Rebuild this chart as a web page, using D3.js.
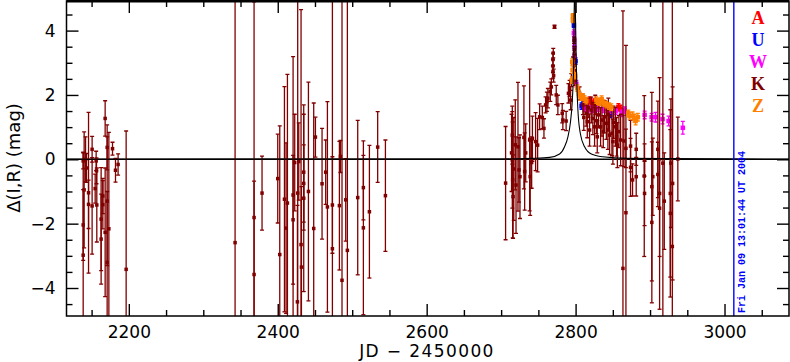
<!DOCTYPE html>
<html lang="en">
<head>
<meta charset="utf-8">
<title>Delta(I,R) light curve</title>
<script src="https://cdn.jsdelivr.net/npm/d3@7/dist/d3.min.js"></script>
<style>
  body { margin: 0; background: #fff; }
  svg { display: block; }
  .tick text { font-family: "DejaVu Sans", sans-serif; font-size: 17px; fill: #000; }
</style>
</head>
<body>
<script>
// Data: [JD-2450000, delta mag, error]
var bandK = [
  [2138.7,-2.98,3.2],[2138.7,-2.04,1.1],[2140.0,-0.95,1.8],[2138.7,-0.05,0.25],[2141.9,0.0,0.7],
  [2143.2,-0.27,0.45],[2145.9,-1.04,2.5],[2145.9,-1.4,0.75],[2150.7,-1.45,1.5],[2150.7,0.31,0.4],
  [2154.8,-0.91,0.45],[2156.1,-0.05,0.3],[2156.6,-0.36,0.4],[2157.0,-1.42,1.15],[2162.8,-1.86,1.6],
  [2162.8,-2.48,1.4],[2165.1,-1.14,0.55],[2165.1,-1.41,0.75],[2168.2,-2.27,2.0],[2168.2,1.27,0.55],
  [2170.9,-3.2,2.2],[2170.9,-1.3,2.0],[2170.9,0.37,0.7],[2173.2,-2.16,3.0],[2178.1,0.33,0.2],
  [2182.1,-0.34,0.37],[2185.6,-0.16,0.33],[2196.4,-3.42,4.3],
  [2342.7,-2.59,8],[2368.2,-1.81,6.7],[2368.2,-3.58,2.9],[2378.9,-1.05,1.15],[2400.0,-0.6,1.38],
  [2402.7,-2.96,4.0],[2409.0,-1.24,3.5],[2411.2,-2.14,2.65],[2413.0,-1.36,4.0],[2420.6,-1.11,4.3],
  [2420.6,-1.88,2.0],[2422.8,-0.1,1.5],[2426.4,-4.43,3.0],[2426.8,-1.05,6.0],[2428.2,-0.07,1.2],
  [2431.3,-2.65,7.3],[2431.8,-3.35,2.5],[2434.9,-0.4,1.8],[2434.9,-0.75,1.2],[2434.9,-1.21,2.9],
  [2441.2,-1.0,3.4],[2448.3,-2.15,3.9],[2450.6,0.69,0.62],[2459.5,-0.76,1.72],[2464.4,-0.4,1.0],
  [2466.7,-1.48,3.27],[2473.4,-2.78,7.7],[2473.4,-1.42,1.5],[2482.8,-1.44,2.0],[2484.2,0.09,0.5],
  [2486.3,-3.76,8.7],[2491.3,-1.26,1.28],[2493.5,-2.83,7.8],[2507.4,-1.19,2.4],[2515.0,-0.88,1.0],
  [2515.0,-2.13,2.7],[2523.1,-1.63,2.06],[2534.2,0.38,1.1],[2544.6,-1.13,1.73],
  [2706,-0.74,1.76],[2715,0.75,0.9],[2715,-0.02,1.5],[2715.5,-0.64,1.8],[2716,-1.16,1.3],
  [2714,0.2,1.2],[2717,-0.3,1.6],[2719,0.45,1.4],[2720,-0.8,1.5],[2722.6,0.39,2.0],
  [2724,-0.33,1.0],[2725.3,-0.54,1.3],[2730.6,0.68,1.6],[2731.6,-0.38,1.2],[2733,0.2,0.9],
  [2738.3,0.6,2.2],[2739,-0.54,1.2],[2741,-0.1,0.8],[2742,0.64,0.7],[2746.3,0.55,0.9],
  [2749,0.44,0.83],[2751.7,1.32,0.4],[2755.3,1.3,0.35],[2757.5,0.96,0.3],[2759.7,1.69,0.25],
  [2761.5,1.79,0.3],[2762.8,1.9,0.3],[2766,2.1,0.3],[2767.4,2.25,0.25],[2769.6,2.72,0.2],
  [2769.6,2.9,0.2],[2769.6,3.1,0.2],[2770,3.3,0.15],[2770.5,2.6,0.2],[2771.7,4.12,0.05],
  [2774,2.0,0.3],[2776.2,1.69,0.3],[2782,1.43,0.3],[2782.9,1.22,0.3],[2787.3,1.19,0.3],
  [2790.4,2.05,0.3],[2792,2.2,0.25],[2793.3,1.84,0.3],[2794.3,2.46,0.2],[2796.6,2.98,0.2],
  [2797.9,3.7,0.1],[2798.3,3.4,0.1],[2798.3,3.1,0.15],[2798.7,2.75,0.15],[2799.2,2.45,0.15],
  [2805.4,2.05,0.2],[2809.8,1.69,0.3],[2811,1.3,0.4],[2814.3,1.43,0.4],[2815.7,1.17,0.5],
  [2817,1.6,0.3],[2818.8,0.91,0.5],[2821.1,1.53,0.4],[2823.2,1.27,0.5],[2825.5,1.01,0.6],
  [2826.4,1.69,0.3],[2828,1.2,0.4],[2829.1,0.7,0.5],[2830.9,1.38,0.4],[2833.6,1.01,0.6],
  [2835.4,1.22,0.5],[2837.2,0.86,0.5],[2839,1.32,0.5],[2841.3,1.12,0.5],[2843.4,0.91,0.6],
  [2844,1.4,0.5],[2845.7,0.75,0.6],[2848.8,0.81,0.7],[2850.1,0.55,0.7],[2851,1.15,0.5],
  [2853.4,1.01,0.6],[2855,0.7,0.6],[2856.1,0.44,0.7],[2858.2,0.86,0.5],[2860.5,0.6,0.8],
  [2864.9,0.57,0.8],[2863.6,-3.39,8],[2867.6,-1.66,5.2],[2867.6,0.34,0.6],[2873.8,0.41,0.8],
  [2873.8,-0.25,0.9],[2876.5,-0.64,0.5],[2881.4,-0.54,0.6],[2881.4,0.31,0.5],[2892.2,-0.52,2.5],
  [2892.6,-1.06,1.0],[2892.6,-0.02,0.5],[2902.4,-0.85,2.93],[2902.4,-1.96,2.5],[2903.7,-0.54,1.2],
  [2910.5,0.31,1.5],[2910.5,-0.47,1.0],[2912.8,-1.06,3.6],[2912.8,-1.52,1.5],[2917.2,-0.12,6],
  [2919.1,-1.3,1.5],[2927.2,-1.06,2.6],[2927.2,-1.68,2.6],[2928,-0.12,2.0],[2929.9,-2.71,7.7],
  [2930.3,-0.75,3.0],[2937.3,0.01,1.3]
];
var bandA = [
  [2816.1,1.79,0.1],[2818.8,1.84,0.1],[2821.5,1.73,0.1],[2824.2,1.78,0.1],[2826.9,1.71,0.1],
  [2857.5,1.63,0.1],[2860,1.58,0.1]
];
var bandU = [
  [2797.7,4.17,0.08],[2800,3.05,0.1],[2808,1.65,0.1],[2810,1.71,0.1],[2846.6,1.38,0.08]
];
var bandW = [
  [2797.7,3.92,0.1],[2798.3,3.7,0.1],[2798.3,3.49,0.1],[2798.5,3.2,0.1],[2801,2.35,0.1],
  [2812.1,1.59,0.1],[2818,1.57,0.1],[2823.8,1.55,0.1],[2830,1.58,0.1],[2838,1.55,0.1],
  [2845.7,1.53,0.1],[2853.8,1.49,0.1],[2861.8,1.43,0.1],[2865.9,1.53,0.1],[2892.7,1.38,0.12],
  [2902.1,1.31,0.12],[2907.4,1.31,0.15],[2916.8,1.25,0.15],[2924.9,1.19,0.15],[2944,0.98,0.2]
];
var bandZ = [
  [2796.4,4.45,0.08],[2796.4,4.33,0.08],[2795.5,3.02,0.1],[2795.1,2.46,0.1],[2795.9,2.77,0.1],
  [2799.5,2.6,0.1],[2802.3,2.21,0.1],[2804.4,2.03,0.1],[2806.7,1.94,0.1],[2809.8,1.94,0.1],
  [2812.1,1.87,0.1],[2814.5,1.82,0.1],[2827.8,1.84,0.1],[2830,1.8,0.1],[2832.2,1.78,0.1],
  [2835,1.87,0.1],[2837.6,1.75,0.1],[2841.2,1.7,0.1],[2845,1.65,0.1],[2848,1.62,0.1],
  [2870.8,1.43,0.1],[2872.5,1.35,0.1],[2876.5,1.35,0.12],[2879.2,1.28,0.12],[2880.6,1.19,0.12],
  [2883.6,1.31,0.12]
];
// model curve
var model = [
  [2116,0],[2700,0.01],[2740,0.03],[2765.1,0.06],[2778.5,0.165],[2785.2,0.39],[2789.7,0.70],
  [2792.9,1.12],[2795.6,1.84],[2797.3,2.88],[2798.7,5.5],[2801,2.88],[2803.1,1.53],[2806.3,0.81],
  [2812.1,0.39],[2821.1,0.165],[2836.2,0.08],[2870,0.03],[3087,0]
];
var xMajor = [2200, 2400, 2600, 2800, 3000];
var yMajor = [-4, -2, 0, 2, 4];
var legendNames = ["A", "U", "W", "K", "Z"];
var legendColors = ["#ff0000", "#0000ff", "#ff00ff", "#800000", "#ff8000"];
var nowJD = 3012.5;
var stampText = "Fri Jan 09 13:01:44 UT 2004";

var W = 790, H = 362;
var pL = 66.5, pR = 789, pT = 1, pB = 316;

var x = d3.scaleLinear().domain([2116.3, 3086.6]).range([pL, pR]);
var y = d3.scaleLinear().domain([-4.87, 4.92]).range([pB, pT]);

var svg = d3.select("body").append("svg").attr("width", W).attr("height", H);

svg.append("defs").append("clipPath").attr("id", "plot")
  .append("rect").attr("x", pL).attr("y", pT).attr("width", pR - pL).attr("height", pB - pT);

//Axes (ticks point inward)
var xMinor = d3.range(2150, 3087, 50).filter(function(v) { return xMajor.indexOf(v) < 0; });
var yMinor = d3.range(-4.5, 4.6, 0.5).filter(function(v) { return yMajor.indexOf(v) < 0; });

function axisG(axis, tx, ty) {
  var g = svg.append("g").attr("transform", "translate(" + tx + "," + ty + ")").call(axis);
  g.select(".domain").remove();
  g.selectAll("line").attr("stroke", "#000").attr("stroke-width", 1.4);
  return g;
}
axisG(d3.axisBottom(x).tickValues(xMajor).tickSize(-12).tickPadding(8).tickFormat(d3.format("d")), 0, pB)
  .selectAll("text").attr("dy", "0.71em").attr("y", 10);
axisG(d3.axisBottom(x).tickValues(xMinor).tickSize(-6).tickFormat(""), 0, pB);
axisG(d3.axisTop(x).tickValues(xMajor).tickSize(-12).tickFormat(""), 0, pT);
axisG(d3.axisTop(x).tickValues(xMinor).tickSize(-6).tickFormat(""), 0, pT);
axisG(d3.axisLeft(y).tickValues(yMajor).tickSize(-12).tickPadding(11)
  .tickFormat(function(d) { return d < 0 ? "\u2212" + (-d) : d; }), pL, 0);
axisG(d3.axisLeft(y).tickValues(yMinor).tickSize(-6).tickFormat(""), pL, 0);
axisG(d3.axisRight(y).tickValues(yMajor).tickSize(-12).tickFormat(""), pR, 0);
axisG(d3.axisRight(y).tickValues(yMinor).tickSize(-6).tickFormat(""), pR, 0);

var plot = svg.append("g").attr("clip-path", "url(#plot)");

// zero line
plot.append("line")
  .attr("x1", pL).attr("x2", pR).attr("y1", y(0)).attr("y2", y(0))
  .attr("stroke", "#000").attr("stroke-width", 1.4);

function drawBand(data, color, size) {
  var g = plot.append("g").attr("stroke", color).attr("fill", color);
  var pts = g.selectAll("g").data(data).enter().append("g");
  pts.append("line")
    .attr("x1", function(d) { return x(d[0]); }).attr("x2", function(d) { return x(d[0]); })
    .attr("y1", function(d) { return y(d[1] + d[2]); }).attr("y2", function(d) { return y(d[1] - d[2]); })
    .attr("stroke-width", 1.3);
  [1, -1].forEach(function(s) {
    pts.append("line")
      .attr("x1", function(d) { return x(d[0]) - 2; }).attr("x2", function(d) { return x(d[0]) + 2; })
      .attr("y1", function(d) { return y(d[1] + s * d[2]); }).attr("y2", function(d) { return y(d[1] + s * d[2]); })
      .attr("stroke-width", 1.3);
  });
  pts.append("rect")
    .attr("x", function(d) { return x(d[0]) - size / 2; })
    .attr("y", function(d) { return y(d[1]) - size / 2; })
    .attr("width", size).attr("height", size)
    .attr("stroke", "none");
}

drawBand(bandA, legendColors[0], 4.5);
drawBand(bandU, legendColors[1], 4.5);
drawBand(bandW, legendColors[2], 4.5);
drawBand(bandK, legendColors[3], 3.5);
drawBand(bandZ, legendColors[4], 4.5);

// model curve
plot.append("path")
  .datum(model)
  .attr("fill", "none").attr("stroke", "#000").attr("stroke-width", 1.1)
  .attr("d", d3.line().x(function(d) { return x(d[0]); }).y(function(d) { return y(d[1]); })
    .curve(d3.curveMonotoneX));

// "now" line and time stamp
plot.append("line")
  .attr("x1", x(nowJD)).attr("x2", x(nowJD)).attr("y1", pT).attr("y2", pB)
  .attr("stroke", "#0000ff").attr("stroke-width", 1.4);
svg.append("text")
  .attr("transform", "translate(" + (x(nowJD) + 11.5) + ",313) rotate(-90)")
  .attr("font-family", "Liberation Mono, monospace").attr("font-weight", "bold")
  .attr("font-size", "10px").attr("fill", "#0000ff")
  .text(stampText);

// legend letters
svg.selectAll(".leg").data(legendNames).enter().append("text")
  .attr("x", 758).attr("y", function(d, i) { return 24 + i * 22; })
  .attr("text-anchor", "middle")
  .attr("font-family", "Liberation Serif, serif").attr("font-weight", "bold").attr("font-size", "18px")
  .attr("fill", function(d, i) { return legendColors[i]; })
  .text(function(d) { return d; });

// frame
svg.append("rect")
  .attr("x", pL).attr("y", pT).attr("width", pR - pL).attr("height", pB - pT)
  .attr("fill", "none").attr("stroke", "#000").attr("stroke-width", 1.5);
svg.append("line").attr("x1", pL).attr("x2", pR).attr("y1", 1.2).attr("y2", 1.2)
  .attr("stroke", "#000").attr("stroke-width", 2.4);

// axis titles
svg.append("text")
  .attr("x", 427).attr("y", 357)
  .attr("text-anchor", "middle")
  .attr("font-family", "DejaVu Sans, sans-serif").attr("font-size", "17px")
  .attr("letter-spacing", "1.4px")
  .text("JD \u2212 2450000");
svg.append("text")
  .attr("transform", "translate(20,158) rotate(-90)")
  .attr("text-anchor", "middle")
  .attr("font-family", "DejaVu Sans, sans-serif").attr("font-size", "18px")
  .text("\u0394(I,R) (mag)");
</script>
</body>
</html>
